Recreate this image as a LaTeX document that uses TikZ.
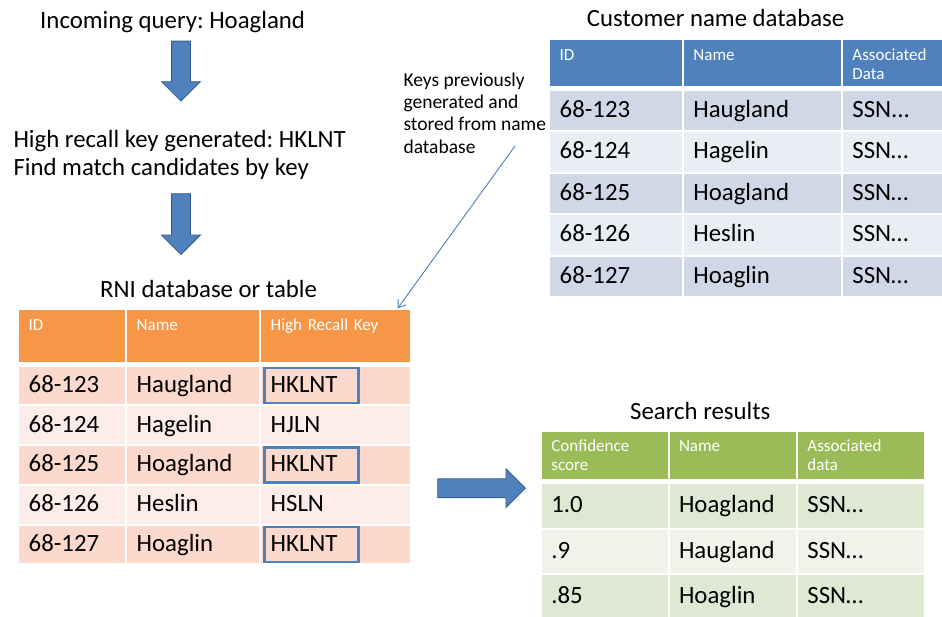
\documentclass[tikz,border=0pt]{standalone}
\usepackage{fontspec}
\setmainfont{Carlito}
\frenchspacing
\usetikzlibrary{shapes.arrows,arrows.meta}

\definecolor{arrowblue}{HTML}{4F81BD}
\definecolor{arrowline}{HTML}{385D8A}
\definecolor{keyblue}{HTML}{4F81BD}
\definecolor{noteblue}{HTML}{4A7EBB}
\definecolor{custhead}{HTML}{4F81BD}
\definecolor{custdark}{HTML}{D0D8E8}
\definecolor{custlight}{HTML}{E9EDF4}
\definecolor{rnihead}{HTML}{F79646}
\definecolor{rnidark}{HTML}{FBD9CC}
\definecolor{rnilight}{HTML}{FDEDE8}
\definecolor{reshead}{HTML}{9BBB59}
\definecolor{resdark}{HTML}{DFE8D2}
\definecolor{reslight}{HTML}{EFF3EA}

\tikzset{
  title/.style={anchor=base west,font=\fontsize{24.8}{29}\selectfont},
  cell/.style={anchor=north west,inner xsep=9.5pt,inner ysep=0pt,align=left,
    font=\fontsize{24.8}{29}\selectfont,text height=18pt,text depth=4pt},
  headcell/.style={anchor=north west,inner xsep=9.5pt,inner ysep=5pt,align=left,
    font=\fontsize{17}{19}\selectfont,text=white,text height=15pt},
  chead/.style={headcell,fill=custhead,text depth=21pt},
  cdark/.style={cell,fill=custdark,minimum height=39.5pt},
  clight/.style={cell,fill=custlight,minimum height=39.5pt},
  rhead/.style={headcell,fill=rnihead,text depth=26.7pt},
  rdark/.style={cell,fill=rnidark,minimum height=37.7pt},
  rlight/.style={cell,fill=rnilight,minimum height=37.7pt},
  shead/.style={headcell,fill=reshead,text depth=22.3pt},
  sdark/.style={cell,fill=resdark,minimum height=43.3pt},
  slight/.style={cell,fill=reslight,minimum height=43.3pt},
  keybox/.style={draw=keyblue,line width=2.5pt,anchor=west,minimum width=94pt,minimum height=35pt},
  bigarrow/.style={single arrow,draw=arrowline,fill=arrowblue,line width=0.8pt,anchor=tip,
    minimum width=38pt,single arrow head extend=10pt,inner sep=9pt},
  keyarrow/.style={draw=noteblue,line width=0.9pt,-{Straight Barb[length=7pt,width=10pt]}}
}

\begin{document}
\begin{tikzpicture}[x=1pt,y=-1pt]
\useasboundingbox (0,0) rectangle (942,616);

% Query steps
\node[title] (query) at (36.7,28.3) {Incoming query: Hoagland};
\node[bigarrow,shape border rotate=270,minimum height=60pt] (down1) at (181,101.7) {};
\node[title] (keygen) at (10,147.3) {High recall key generated: HKLNT};
\node[title] (match) at (10,175.5) {Find match candidates by key};
\node[bigarrow,shape border rotate=270,minimum height=60.7pt] (down2) at (181,255) {};

% Customer name database
\node[title] (custtitle) at (583.3,26.7) {Customer name database};
\node[chead,text width=112.7pt] (ch1) at (550,40) {ID};
\node[chead,text width=138pt] (ch2) at (683.7,40) {Name};
\node[chead,text width=80pt] (ch3) at (842.7,40) {Associated\\Data};
\node[cdark,text width=112.7pt] (c11) at (550,90.5) {68-123};
\node[cdark,text width=138pt] (c12) at (683.7,90.5) {Haugland};
\node[cdark,text width=80pt] (c13) at (842.7,90.5) {SSN...};
\node[clight,text width=112.7pt] (c21) at (550,132) {68-124};
\node[clight,text width=138pt] (c22) at (683.7,132) {Hagelin};
\node[clight,text width=80pt] (c23) at (842.7,132) {SSN…};
\node[cdark,text width=112.7pt] (c31) at (550,173.5) {68-125};
\node[cdark,text width=138pt] (c32) at (683.7,173.5) {Hoagland};
\node[cdark,text width=80pt] (c33) at (842.7,173.5) {SSN…};
\node[clight,text width=112.7pt] (c41) at (550,215) {68-126};
\node[clight,text width=138pt] (c42) at (683.7,215) {Heslin};
\node[clight,text width=80pt] (c43) at (842.7,215) {SSN…};
\node[cdark,text width=112.7pt] (c51) at (550,256.5) {68-127};
\node[cdark,text width=138pt] (c52) at (683.7,256.5) {Hoaglin};
\node[cdark,text width=80pt] (c53) at (842.7,256.5) {SSN…};

% Note on stored keys
\node[anchor=base west,align=left,font=\fontsize{19.5}{22.4}\selectfont] (note) at (400,153.3)
  {Keys previously\\generated and\\stored from name\\database};
\coordinate (notetail) at (515,146);

% RNI database or table
\node[title] (rnititle) at (96.7,297) {RNI database or table};
\node[rhead,text width=87pt] (rh1) at (19,310) {ID};
\node[rhead,text width=113pt] (rh2) at (127,310) {Name};
\node[rhead,text width=130pt] (rh3) at (261,310) {High Recall Key};
\node[rdark,text width=87pt] (r11) at (19,366.5) {68-123};
\node[rdark,text width=113pt] (r12) at (127,366.5) {Haugland};
\node[rdark,text width=130pt] (r13) at (261,366.5) {HKLNT};
\node[rlight,text width=87pt] (r21) at (19,406.2) {68-124};
\node[rlight,text width=113pt] (r22) at (127,406.2) {Hagelin};
\node[rlight,text width=130pt] (r23) at (261,406.2) {HJLN};
\node[rdark,text width=87pt] (r31) at (19,445.9) {68-125};
\node[rdark,text width=113pt] (r32) at (127,445.9) {Hoagland};
\node[rdark,text width=130pt] (r33) at (261,445.9) {HKLNT};
\node[rlight,text width=87pt] (r41) at (19,485.6) {68-126};
\node[rlight,text width=113pt] (r42) at (127,485.6) {Heslin};
\node[rlight,text width=130pt] (r43) at (261,485.6) {HSLN};
\node[rdark,text width=87pt] (r51) at (19,525.3) {68-127};
\node[rdark,text width=113pt] (r52) at (127,525.3) {Hoaglin};
\node[rdark,text width=130pt] (r53) at (261,525.3) {HKLNT};

% Matching keys
\node[keybox] (key1) at ([xshift=2.3pt]r13.west) {};
\node[keybox] (key3) at ([xshift=2.3pt]r33.west) {};
\node[keybox] (key5) at ([xshift=2.3pt]r53.west) {};

\draw[keyarrow] (notetail) -- ([xshift=-12.7pt,yshift=1.7pt]rh3.north east);

% Search results
\node[bigarrow,minimum height=87.7pt] (toresults) at (526,488.2) {};
\node[title] (restitle) at (626.7,419.3) {Search results};
\node[shead,text width=106.6pt] (sh1) at (541.7,431.7) {Confidence\\score};
\node[shead,text width=107.4pt] (sh2) at (669.3,431.7) {Name};
\node[shead,text width=107.3pt] (sh3) at (797.7,431.7) {Associated\\data};
\node[sdark,text width=106.6pt] (s11) at (541.7,484) {1.0};
\node[sdark,text width=107.4pt] (s12) at (669.3,484) {Hoagland};
\node[sdark,text width=107.3pt] (s13) at (797.7,484) {SSN…};
\node[slight,text width=106.6pt] (s21) at (541.7,529.5) {.9};
\node[slight,text width=107.4pt] (s22) at (669.3,529.5) {Haugland};
\node[slight,text width=107.3pt] (s23) at (797.7,529.5) {SSN…};
\node[sdark,text width=106.6pt] (s31) at (541.7,575) {.85};
\node[sdark,text width=107.4pt] (s32) at (669.3,575) {Hoaglin};
\node[sdark,text width=107.3pt] (s33) at (797.7,575) {SSN…};
\end{tikzpicture}
\end{document}
